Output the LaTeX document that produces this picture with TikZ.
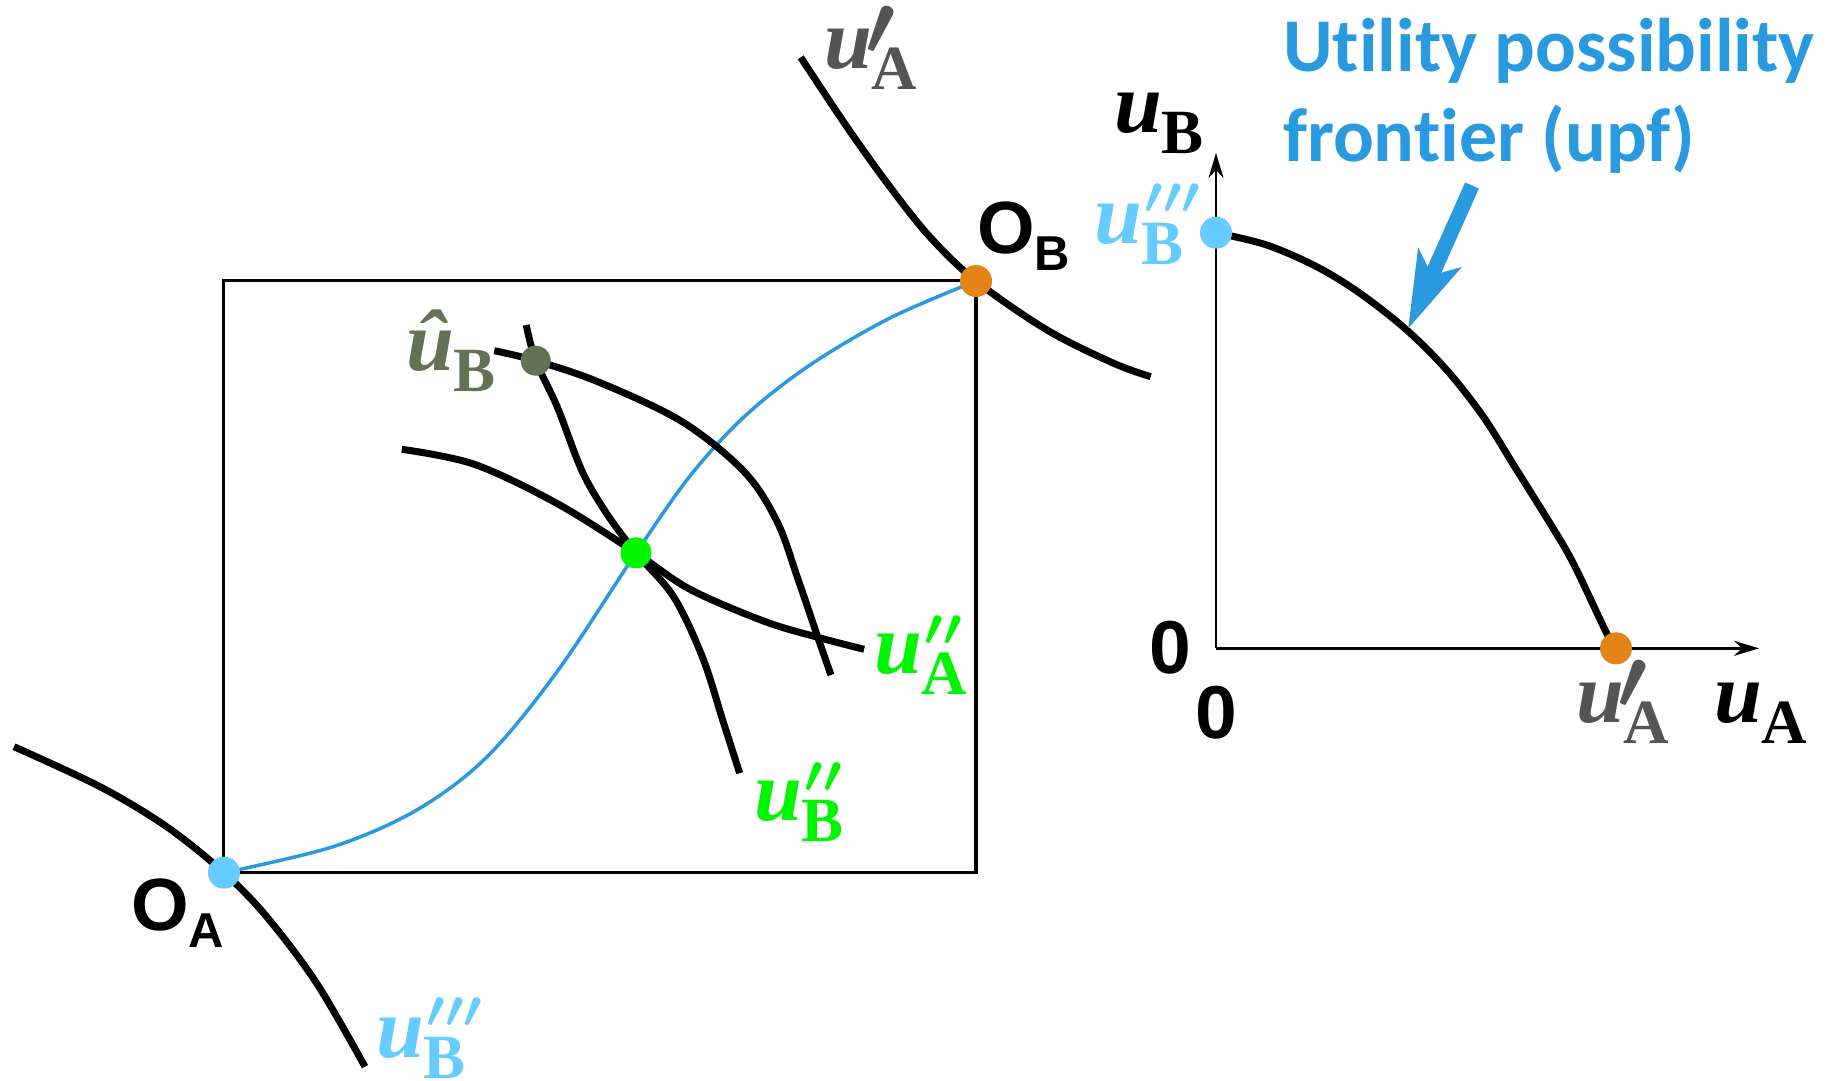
\documentclass[tikz,border=0pt]{standalone}
\usepackage{fontspec}
\usetikzlibrary{arrows.meta}
\DeclareFontShape{OMS}{cmsy}{b}{n}{<->cmbsy10}{}
\DeclareFontShape{OMS}{cmsy}{m}{n}{<->cmsy10}{}
\newfontfamily\serfam{Liberation Serif}
\newfontfamily\sansfam{Liberation Sans}
\newfontfamily\upffam[Ligatures=NoCommon]{Carlito}
\definecolor{lineblue}{RGB}{42,154,224}
\definecolor{lblue}{RGB}{102,204,255}
\definecolor{orng}{RGB}{227,132,22}
\definecolor{grn}{RGB}{0,245,0}
\definecolor{olivegray}{RGB}{100,113,85}
\definecolor{gry}{RGB}{85,85,85}
\newcommand\ulab[3]{{\serfam\bfseries\itshape\fontsize{86}{86}\selectfont #1}\makebox[0pt][l]{#2}\raisebox{-21pt}{\serfam\bfseries\fontsize{63}{63}\selectfont #3}}
\newcommand\pone{\kern-6pt\raisebox{14pt}{\fontsize{86}{86}\selectfont\boldmath$\prime$}}
\newcommand\ptwo{\kern3pt\raisebox{28pt}{\fontsize{53}{53}\selectfont\boldmath$\prime\mkern0mu\prime$}}
\newcommand\pthree{\kern3pt\raisebox{30pt}{\fontsize{53}{53}\selectfont\boldmath$\prime\mkern0mu\prime\mkern0mu\prime$}}
\newcommand\sublab[2]{{\sansfam\bfseries\fontsize{74}{74}\selectfont #1\raisebox{-17pt}{\fontsize{49}{49}\selectfont #2}}}
\tikzset{
  lab/.style={inner sep=0pt, outer sep=0pt, anchor=base west},
  dot/.style={circle, inner sep=0pt, minimum size=32pt, draw=none},
  icurve/.style={line width=7pt, black},
  ccurve/.style={line width=3.5pt, lineblue},
  axis/.style={line width=2.5pt, -{Stealth[length=25pt,width=15pt,inset=8pt]}},
  boxline/.style={line width=3.5pt}
}
\begin{document}
\begin{tikzpicture}[x=1pt,y=-1pt]
\useasboundingbox (0,0) rectangle (1841,1080);
\fill[white] (0,0) rectangle (1841,1080);
% Edgeworth box
\draw[boxline] (223.5,280.6) rectangle (975.8,872.5);
% contract curve
\draw[ccurve] plot[smooth, tension=0.55] coordinates {(224,872.7) (333,846.7) (416.7,810) (486.8,757) (557.3,671.4) (636,553) (690,476) (745,416) (810,365) (890,318) (976,281)};
% indifference curves
\draw[icurve] plot[smooth, tension=0.55] coordinates {(800.7,57.3) (847,127) (890,187) (930,237) (976,281) (1047,330) (1113,363) (1150.7,376.7)};
\draw[icurve] plot[smooth, tension=0.55] coordinates {(14,746.7) (100,786.7) (166.7,826.7) (224,872.7) (266.7,916.7) (316.7,983.3) (365,1066.7)};
\draw[icurve] plot[smooth, tension=0.55] coordinates {(494.3,350.7) (535.7,360.7) (598.8,382.1) (681.7,421.4) (743.9,471.4) (777,521.4) (797.8,578.6) (818.5,639.3) (831,675)};
\draw[icurve] plot[smooth, tension=0.55] coordinates {(526.2,325) (535.7,360.7) (557.3,407) (582.2,471.4) (607,514) (636,552.9) (673.4,596.4) (702.4,657) (723.1,721.4) (739.7,773.2)};
\draw[icurve] plot[smooth, tension=0.55] coordinates {(401.8,449.3) (474.4,464.3) (557.3,503.6) (636,552.9) (690,589.3) (764.6,621.4) (818.5,637.5) (864.1,649.3)};
% dots
\node[dot, fill=lblue] (OA) at (224,872.7) {};
\node[dot, fill=orng] (OB) at (976,281) {};
\node[dot, fill=olivegray, minimum size=30pt] (hat) at (535.7,360.7) {};
\node[dot, fill=grn, minimum size=31pt] (eq) at (636,552.9) {};
% left labels
\node[lab, text=gry] (uA1) at (824,68) {\ulab{u}{\pone}{A}};
\node[lab] (OBl) at (977,253) {\sublab{O}{B}};
\node[lab] (OAl) at (131,930) {\sublab{O}{A}};
\node[lab, text=olivegray] (hatl) at (406,370) {\ulab{û}{}{B}};
\node[lab, text=grn] (uA2) at (874,673) {\ulab{u}{\ptwo}{A}};
\node[lab, text=grn] (uB2) at (754,820) {\ulab{u}{\ptwo}{B}};
\node[lab, text=lblue] (uB3) at (376,1057) {\ulab{u}{\pthree}{B}};
% right panel
\coordinate (O2) at (1216,648.3);
\coordinate (ytip) at (1216,153);
\coordinate (xtip) at (1759,648.3);
\draw[axis] (O2) -- (ytip);
\draw[axis] (O2) -- (xtip);
\draw[icurve] plot[smooth, tension=0.55] coordinates {(1216,232.7) (1266.7,245) (1316.7,266.7) (1360,293.3) (1406.7,330) (1446.7,370) (1483.3,416.7) (1516.7,470) (1550,523.3) (1573.3,563.3) (1606.7,633.3) (1616,648.3)};
\node[dot, fill=lblue] (ub3p) at (1216,232.7) {};
\node[dot, fill=orng] (ua1p) at (1616,648.3) {};
\node[lab] (uBax) at (1114,132) {\ulab{u}{}{B}};
\node[lab, text=lblue] (uB3r) at (1094,243) {\ulab{u}{\pthree}{B}};
\node[lab] (zero1) at (1149,673) {{\sansfam\bfseries\fontsize{75}{75}\selectfont 0}};
\node[lab] (zero2) at (1195,738) {{\sansfam\bfseries\fontsize{75}{75}\selectfont 0}};
\node[lab, text=gry] (uA1r) at (1576,722) {\ulab{u}{\pone}{A}};
\node[lab] (uAax) at (1714,722) {\ulab{u}{}{A}};
% upf annotation
\node[lab, align=left, text=lineblue, font={\upffam\bfseries\fontsize{76}{90}\selectfont}] (upf) at (1283,161.7) {Utility possibility\\frontier (upf)};
\coordinate (arrS) at (1472,185.5);
\coordinate (arrT) at (1408.3,328.3);
\draw[lineblue, line width=15pt, -{Stealth[length=78pt,width=48pt,inset=20pt,line width=0pt]}] (arrS) -- (arrT);
\end{tikzpicture}
\end{document}
